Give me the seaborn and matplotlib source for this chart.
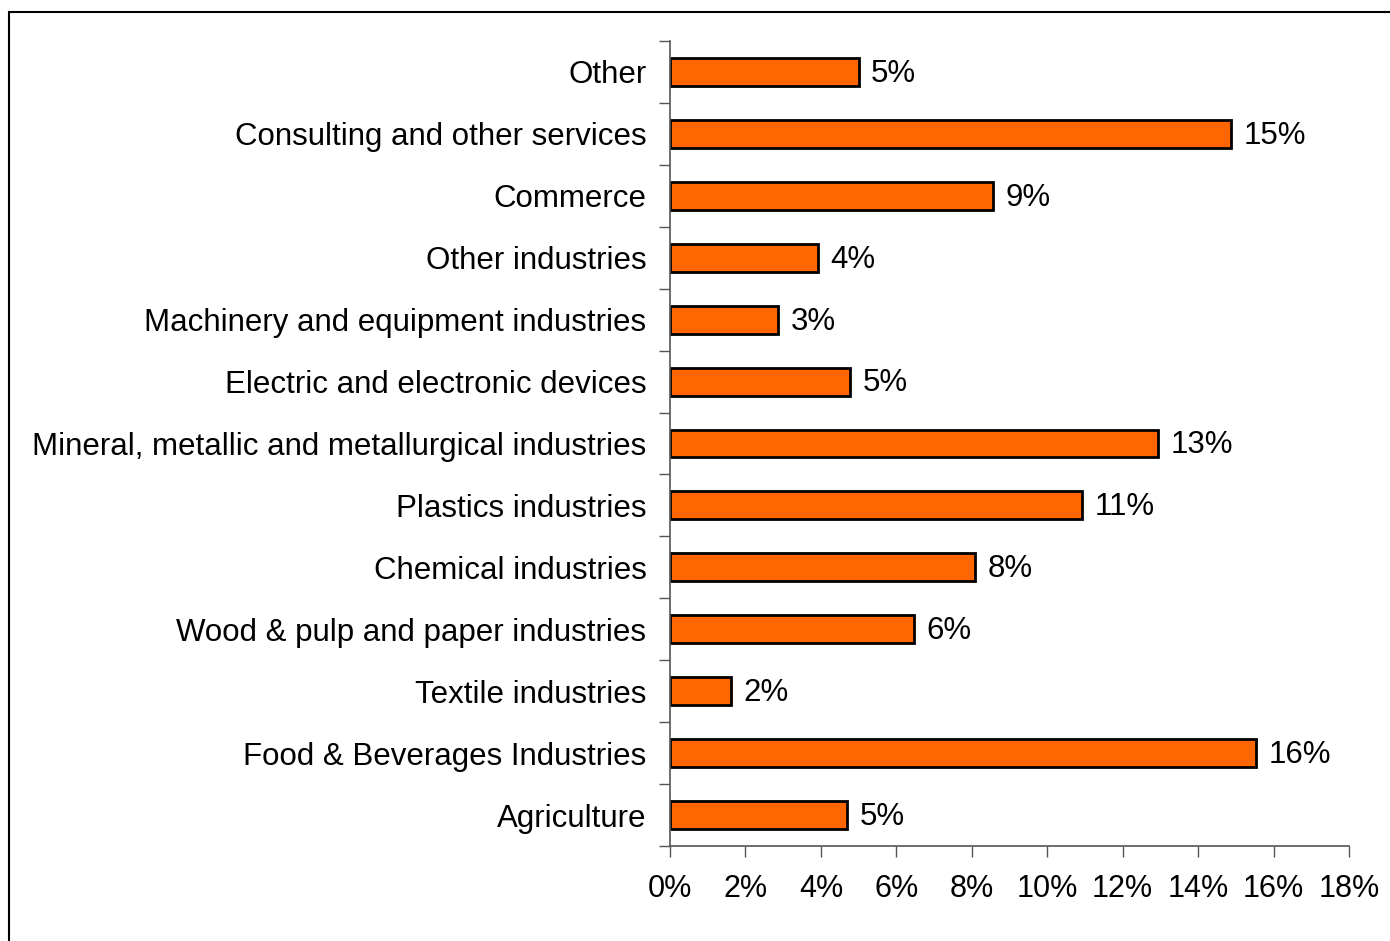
import matplotlib
matplotlib.use("Agg")
import matplotlib.pyplot as plt
import seaborn as sns
import pandas as pd
import numpy as np
from matplotlib.patches import Rectangle
from matplotlib.ticker import FixedLocator, PercentFormatter

categories = [
    "Other",
    "Consulting and other services",
    "Commerce",
    "Other industries",
    "Machinery and equipment industries",
    "Electric and electronic devices",
    "Mineral, metallic and metallurgical industries",
    "Plastics industries",
    "Chemical industries",
    "Wood & pulp and paper industries",
    "Textile industries",
    "Food & Beverages Industries",
    "Agriculture",
]
shares = [5.0, 14.87, 8.56, 3.92, 2.86, 4.77, 12.94, 10.92, 8.09, 6.47, 1.62, 15.54, 4.69]
x_ticks = [0, 2, 4, 6, 8, 10, 12, 14, 16, 18]

sns.set_theme(style="white")
plt.rcParams['font.family'] = ['Liberation Sans', 'DejaVu Sans']
plt.rcParams['text.color'] = 'black'
plt.rcParams['xtick.color'] = 'black'
plt.rcParams['ytick.color'] = 'black'

df = pd.DataFrame({"category": categories, "share": shares})

fig = plt.figure(figsize=(13.9, 9.41), dpi=100)
ax = fig.add_axes([670/1390, 1-846/941, (1349-670)/1390, (846-41)/941])

sns.barplot(data=df, x="share", y="category", orient="h", color="#FF6600",
            saturation=1, edgecolor="black", linewidth=2, width=0.45, ax=ax)

ax.set_xlim(0, 18)
n = len(categories)
ax.set_ylim(n - 0.5, -0.5)
ax.set_xlabel("")
ax.set_ylabel("")

for i, v in enumerate(shares):
    ax.text(v + 0.33, i + 0.03, f"{round(v):.0f}%", va="center", ha="left", fontsize=22.5, color="black")

ax.xaxis.set_major_locator(FixedLocator(x_ticks))
ax.xaxis.set_major_formatter(PercentFormatter(decimals=0))
ax.tick_params(axis="x", which="major", direction="out", length=8, width=1, color="#555555",
               labelsize=22, pad=12, bottom=True, labelcolor="black")

ax.yaxis.set_minor_locator(FixedLocator(np.arange(-0.5, n, 1.0)))
ax.tick_params(axis="y", which="major", length=0, labelsize=22.5, pad=17, labelcolor="black")
ax.tick_params(axis="y", which="minor", direction="out", length=8, width=1, color="#555555", left=True)

for s in ["top", "right"]:
    ax.spines[s].set_visible(False)
for s in ["left", "bottom"]:
    ax.spines[s].set_visible(True)
    ax.spines[s].set_color("#555555")
    ax.spines[s].set_linewidth(1.2)

border = Rectangle((9/1390, -0.05), 1.1, 1 - 12/941 + 0.05, transform=fig.transFigure,
                   fill=False, edgecolor="black", linewidth=1.5, clip_on=False)
fig.patches.append(border)

fig.savefig("out.png", dpi=100)
